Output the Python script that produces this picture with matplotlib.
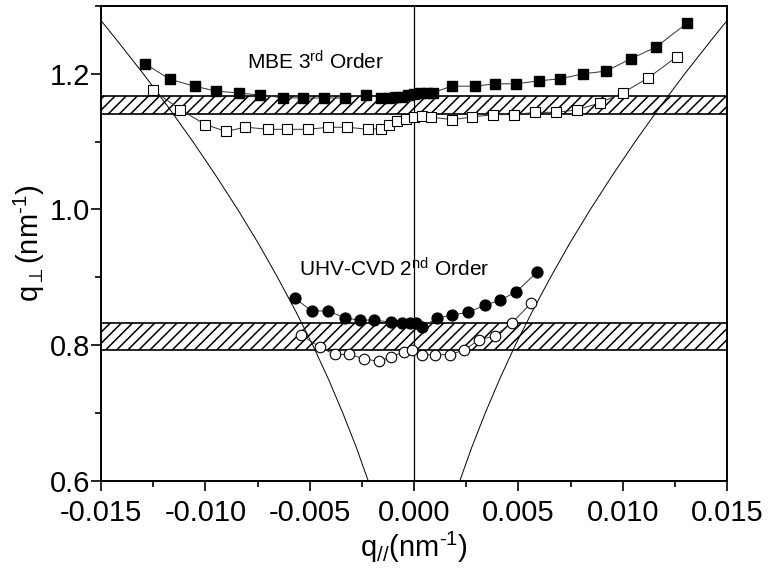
import matplotlib
matplotlib.use("Agg")
import matplotlib.pyplot as plt
from matplotlib.ticker import MultipleLocator, FormatStrFormatter

plt.rcParams['font.family'] = ['Liberation Sans', 'DejaVu Sans']
plt.rcParams['mathtext.fontset'] = 'custom'
plt.rcParams['mathtext.rm'] = 'Liberation Sans'
plt.rcParams['mathtext.it'] = 'Liberation Sans:italic'
plt.rcParams['mathtext.sf'] = 'Liberation Sans'
plt.rcParams['axes.unicode_minus'] = False
plt.rcParams['hatch.linewidth'] = 1.1

# MBE 3rd order, filled squares
mbe_fill_x = [-0.0129, -0.0117, -0.0105, -0.0095, -0.0084, -0.0074, -0.0063, -0.0053,
              -0.0043, -0.0033, -0.0023, -0.0016, -0.0012, -0.0009, -0.0006, -0.0003,
              0.0000, 0.0003, 0.0006, 0.0009, 0.0018, 0.0029, 0.0039, 0.0049,
              0.0060, 0.0070, 0.0081, 0.0092, 0.0104, 0.0116, 0.0131]
mbe_fill_y = [1.2148, 1.1916, 1.1813, 1.1744, 1.1714, 1.1685, 1.1645, 1.1640,
              1.1640, 1.1640, 1.1690, 1.1645, 1.1645, 1.1650, 1.1660, 1.1680,
              1.1700, 1.1720, 1.1720, 1.1720, 1.1815, 1.1815, 1.1850, 1.1850,
              1.1894, 1.1924, 1.1997, 1.2037, 1.2219, 1.2392, 1.2747]

# MBE 3rd order, open squares
mbe_open_x = [-0.0125, -0.0112, -0.0100, -0.0090, -0.0081, -0.0070, -0.0061, -0.0051,
              -0.0041, -0.0032, -0.0022, -0.0016, -0.0012, -0.0008, -0.0004, 0.0000,
              0.0004, 0.0008, 0.0018, 0.0028, 0.0038, 0.0048, 0.0058, 0.0068,
              0.0078, 0.0089, 0.0100, 0.0112, 0.0126]
mbe_open_y = [1.1754, 1.1470, 1.1250, 1.1148, 1.1212, 1.1180, 1.1180, 1.1180,
              1.1210, 1.1210, 1.1180, 1.1190, 1.1250, 1.1296, 1.1325, 1.1360,
              1.1380, 1.1361, 1.1322, 1.1361, 1.1396, 1.1396, 1.1430, 1.1430,
              1.1465, 1.1568, 1.1716, 1.1933, 1.2249]

# UHV-CVD 2nd order, filled circles
uhv_fill_x = [-0.0057, -0.0049, -0.0041, -0.0033, -0.0026, -0.0019, -0.0011, -0.0006,
              -0.0002, 0.0001, 0.0004, 0.0011, 0.0018, 0.0026, 0.0034, 0.0041,
              0.0049, 0.0059]
uhv_fill_y = [0.8689, 0.8505, 0.8505, 0.8400, 0.8370, 0.8370, 0.8340, 0.8335,
              0.8335, 0.8335, 0.8265, 0.8403, 0.8442, 0.8487, 0.8590, 0.8660,
              0.8787, 0.9078]

# UHV-CVD 2nd order, open circles
uhv_open_x = [-0.0054, -0.0045, -0.0038, -0.0031, -0.0024, -0.0017, -0.0011, -0.0005,
              -0.0001, 0.0004, 0.0010, 0.0017, 0.0024, 0.0031, 0.0039, 0.0047, 0.0056]
uhv_open_y = [0.8150, 0.7970, 0.7865, 0.7865, 0.7802, 0.7762, 0.7830, 0.7900,
              0.7935, 0.7861, 0.7861, 0.7861, 0.7929, 0.8077, 0.8142, 0.8334, 0.8615]

# accessible-region boundary (same on both sides), |q_par| vs q_perp
edge_qperp = [0.60, 0.65, 0.70, 0.75, 0.80, 0.85, 0.90, 0.95, 1.00,
              1.05, 1.10, 1.15, 1.20, 1.25, 1.28]
edge_qpar = [0.00219, 0.00277, 0.00341, 0.00410, 0.00485, 0.00567, 0.00654, 0.00746,
             0.00845, 0.00950, 0.01060, 0.01176, 0.01298, 0.01426, 0.01505]

# hatched bands (q_perp ranges)
band_mbe = (1.141, 1.167)
band_uhv = (0.7925, 0.8335)

fig = plt.figure(figsize=(7.71, 5.70), dpi=100)
ax = fig.add_axes([0.131, 0.156, 0.812, 0.834])

for lo, hi in (band_mbe, band_uhv):
    ax.axhspan(lo, hi, facecolor='white', edgecolor='black', hatch='///',
               linewidth=1.2, zorder=1)

ax.axvline(0.0, color='black', lw=0.9, zorder=2)
ax.plot([-v for v in edge_qpar], edge_qperp, color='black', lw=0.7, zorder=2)
ax.plot(edge_qpar, edge_qperp, color='black', lw=0.7, zorder=2)

line_kw = dict(color='#333333', lw=0.7, zorder=3)
ax.plot(mbe_fill_x, mbe_fill_y, marker='s', ms=7.2, mfc='black', mec='black', **line_kw)
ax.plot(mbe_open_x, mbe_open_y, marker='s', ms=6.8, mfc='white', mec='black', mew=0.8, **line_kw)
ax.plot(uhv_fill_x, uhv_fill_y, marker='o', ms=7.8, mfc='black', mec='black', **line_kw)
ax.plot(uhv_open_x, uhv_open_y, marker='o', ms=7.6, mfc='white', mec='black', mew=0.8, **line_kw)

ax.text(-0.0080, 1.2175, r'MBE 3$^{\mathrm{rd}}$ Order', fontsize=15, va='center', ha='left')
ax.text(-0.0055, 0.912, r'UHV-CVD 2$^{\mathrm{nd}}$ Order', fontsize=15, va='center', ha='left')

ax.set_xlim(-0.015, 0.015)
ax.set_ylim(0.6, 1.3)
ax.xaxis.set_major_locator(MultipleLocator(0.005))
ax.xaxis.set_minor_locator(MultipleLocator(0.0025))
ax.yaxis.set_major_locator(MultipleLocator(0.2))
ax.yaxis.set_minor_locator(MultipleLocator(0.1))
ax.xaxis.set_major_formatter(FormatStrFormatter('%.3f'))
ax.yaxis.set_major_formatter(FormatStrFormatter('%.1f'))
ax.tick_params(which='both', direction='out', top=False, right=False, width=1.2,
               labelsize=21)
ax.tick_params(which='major', length=7)
ax.tick_params(which='minor', length=4)
ax.tick_params(axis='x', which='major', pad=6)
ax.tick_params(axis='y', which='major', pad=1)
for s in ax.spines.values():
    s.set_linewidth(1.4)

ax.set_xlabel(r'q$_{//}$(nm$^{\text{-1}}$)', fontsize=21, labelpad=2)
ax.set_ylabel(r'$\mathrm{q}_{\perp}\mathrm{(nm}^{\text{-1}}\mathrm{)}$', fontsize=21, labelpad=2)

fig.savefig('out.png', dpi=100)
